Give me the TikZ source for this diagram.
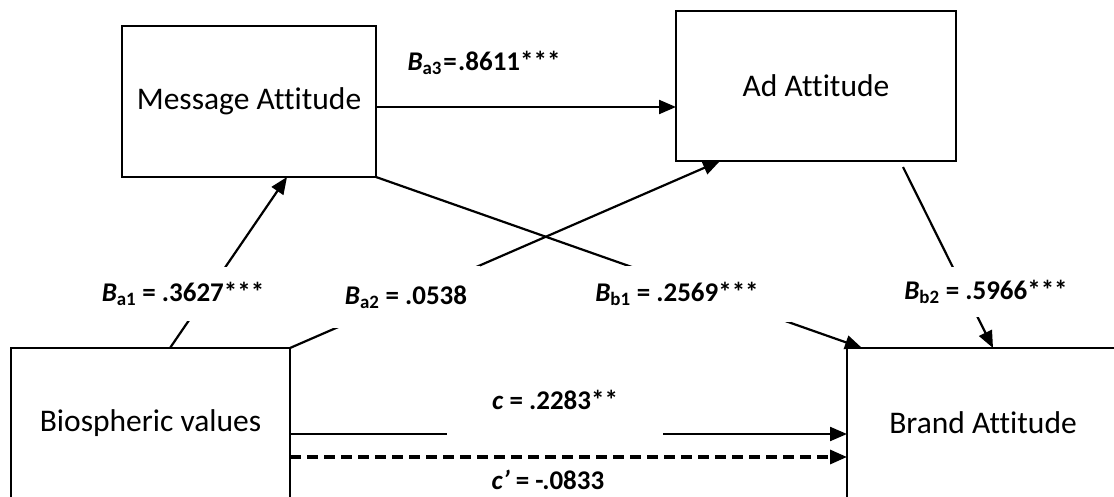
\documentclass[tikz,border=0pt]{standalone}
\usepackage{fontspec}
\setmainfont{Carlito}[Ligatures={NoCommon}]
\usetikzlibrary{arrows.meta}
\begin{document}
\begin{tikzpicture}[x=1pt,y=-1pt,
  box/.style={draw,line width=2.4pt,rectangle,inner sep=0pt,outer sep=0pt,font=\fontsize{31.5}{36}\selectfont},
  arr/.style={line width=2.2pt,-{Triangle[length=17pt,width=14pt]}},
  dasharr/.style={line width=3.2pt,dash pattern=on 11pt off 6pt,-{Triangle[length=17pt,width=14pt]}},
  lab/.style={fill=white,inner sep=2pt,font=\bfseries\fontsize{27}{31}\selectfont},
]
\useasboundingbox (0,0) rectangle (1114,497);
\clip (0,0) rectangle (1114,497);

% boxes
\node[box,minimum width=254pt,minimum height=151pt] (msg) at (249,101.5) {Message Attitude};
\node[box,minimum width=280pt,minimum height=150pt] (ad) at (816,86) {Ad Attitude};
\node[box,minimum width=279pt,minimum height=150pt] (bio) at (150.5,423) {Biospheric values};
\node[box,minimum width=272pt,minimum height=150pt] (brand) at (983,423) {Brand Attitude};

% connectors
\draw[arr] ([xshift=159pt]bio.north west) -- ([xshift=165pt]msg.south west);
\draw[arr] (bio.north east) -- ([xshift=44pt]ad.south west);
\coordinate (m3) at ([yshift=-5.5pt]msg.east);
\draw[arr] (m3) -- (m3 -| ad.west);
\draw[arr] (msg.south east) -- ([xshift=15pt]brand.north west);
\draw[arr] ([xshift=-53pt,yshift=-6pt]ad.south east) -- ([xshift=146pt]brand.north west);
\coordinate (c1) at ([yshift=-11pt]bio.east);
\draw[arr] (c1) -- (c1 -| brand.west);
\coordinate (c2) at ([yshift=-34pt]bio.east);
\draw[dasharr] (c2) -- (c2 -| brand.west);

% labels
\node[lab,minimum height=54pt] (la1) at (183,294) {\textit{B}\textsubscript{a1} = .3627***};
\node[lab,minimum width=147pt,minimum height=62pt] (la2) at (406,297) {\textit{B}\textsubscript{a2} = .0538};
\node[lab,minimum width=228pt,minimum height=56pt] (lb1) at (677,294) {\textit{B}\textsubscript{b1} = .2569***};
\node[lab,minimum width=172pt,minimum height=50pt] (lb2) at (986,292) {\textit{B}\textsubscript{b2} = .5966***};
\node[lab,minimum width=216pt,minimum height=78pt] (lc) at (555,400) {\textit{c} = .2283**};
\node[lab] (lcp) at (548,480) {\textit{c’} = -.0833};
\node[lab] (la3) at (484,63) {\textit{B}\textsubscript{a3}\hspace{0.05em}=\hspace{0.05em}.8611***};
\end{tikzpicture}
\end{document}
